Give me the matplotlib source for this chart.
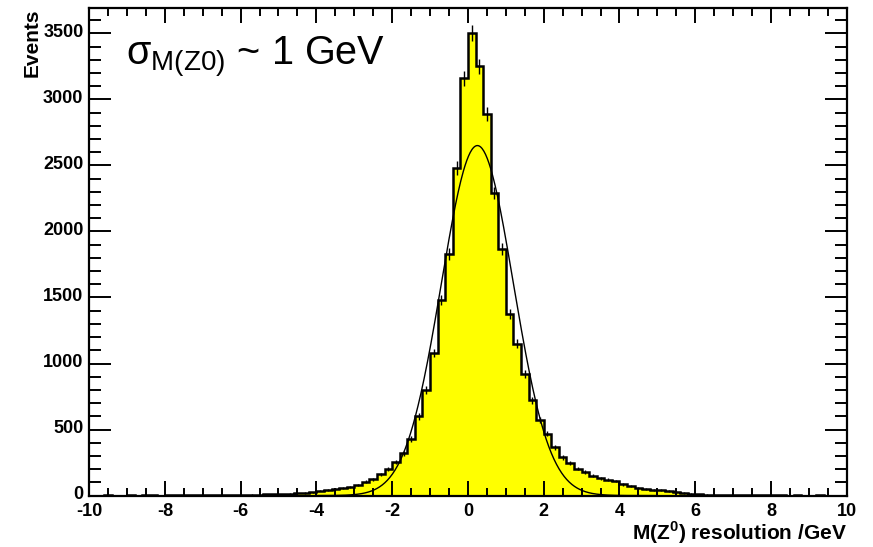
import numpy as np
import matplotlib
matplotlib.use("Agg")
import matplotlib.pyplot as plt
import matplotlib.transforms as mtransforms
from matplotlib.ticker import MultipleLocator

# bins of 0.2 GeV from -10 to 10
bin_edges = np.round(np.arange(-10.0, 10.0001, 0.2), 2)
events = [
    # -10 .. -7
    0, 0, 1, 0, 0, 1, 0, 1, 1, 0, 1, 2, 1, 1, 2,
    # -7 .. -6
    2, 3, 2, 4, 5,
    # -6 .. -5
    5, 7, 6, 9, 10,
    # -5 .. -4
    12, 14, 17, 20, 25,
    # -4 .. -3
    38, 44, 52, 58, 68,
    # -3 .. -2
    82, 105, 125, 160, 200,
    # -2 .. -1
    255, 320, 430, 600, 800,
    # -1 .. 0
    1080, 1480, 1830, 2480, 3160,
    # 0 .. 1
    3500, 3250, 2890, 2290, 1866,
    # 1 .. 2
    1376, 1150, 920, 720, 570,
    # 2 .. 3
    470, 365, 290, 245, 205,
    # 3 .. 4
    180, 150, 132, 120, 110,
    # 4 .. 5
    85, 70, 57, 50, 45,
    # 5 .. 6
    40, 36, 28, 20, 15,
    # 6 .. 7
    11, 8, 7, 5, 4,
    # 7 .. 8
    3, 3, 2, 2, 1,
    # 8 .. 10
    1, 1, 0, 1, 0, 0, 1, 0, 0, 0,
]
# gaussian fit (counts per bin)
fit_amp = 2650
fit_mean = 0.25
fit_sigma = 0.95
fit_range = (-4.0, 5.0)

events = np.array(events, dtype=float)
centers = 0.5 * (bin_edges[:-1] + bin_edges[1:])

plt.rcParams["font.family"] = ["Liberation Sans", "DejaVu Sans"]
plt.rcParams["mathtext.fontset"] = "custom"
plt.rcParams["mathtext.rm"] = "Liberation Sans"
plt.rcParams["mathtext.bf"] = "Liberation Sans:bold"
plt.rcParams["axes.unicode_minus"] = False

fig = plt.figure(figsize=(8.73, 5.47), dpi=100)
ax = fig.add_axes([0.102, 0.094, 0.868, 0.891])

ax.stairs(events, bin_edges, fill=True, color="#ffff00", zorder=1)
ax.stairs(events, bin_edges, color="black", lw=1.8, zorder=2)
mask = events > 0
ax.errorbar(centers[mask], events[mask], yerr=np.sqrt(events[mask]), fmt="none",
            ecolor="black", elinewidth=1.0, capsize=0, zorder=3)

xf = np.linspace(fit_range[0], fit_range[1], 400)
yf = fit_amp * np.exp(-0.5 * ((xf - fit_mean) / fit_sigma) ** 2)
ax.plot(xf, yf, color="black", lw=1.0, zorder=4)

ax.set_xlim(-10, 10)
ax.set_ylim(0, 3690)
ax.xaxis.set_major_locator(MultipleLocator(2))
ax.xaxis.set_minor_locator(MultipleLocator(0.5))
ax.yaxis.set_major_locator(MultipleLocator(500))
ax.yaxis.set_minor_locator(MultipleLocator(100))
ax.tick_params(axis="both", which="both", direction="in", top=True, right=True, width=1.4)
ax.tick_params(axis="x", which="major", length=11, pad=5)
ax.tick_params(axis="x", which="minor", length=6)
ax.tick_params(axis="y", which="major", length=16, pad=4)
ax.tick_params(axis="y", which="minor", length=8.5)
for lab in ax.get_xticklabels() + ax.get_yticklabels():
    lab.set_fontweight("bold")
    lab.set_fontsize(13)
# ROOT draws the y labels a touch above the tick, so "0" clears "-10"
shift_up = mtransforms.ScaledTranslation(0, 3 / 100, fig.dpi_scale_trans)
for lab in ax.get_yticklabels():
    lab.set_transform(lab.get_transform() + shift_up)
for sp in ax.spines.values():
    sp.set_linewidth(1.6)

ax.set_xlabel(r"M(Z$^{\mathbf{0}}$) resolution /GeV", fontsize=15, fontweight="bold",
              loc="right", labelpad=0)
ax.set_ylabel("Events", fontsize=15, fontweight="bold", loc="top", labelpad=1)

ax.text(0.049, 0.884, r"σ$_{\mathrm{M(Z0)}}$ ~ 1 GeV", transform=ax.transAxes,
        fontsize=28.5, va="baseline", ha="left")

fig.savefig("out.png", dpi=100)
